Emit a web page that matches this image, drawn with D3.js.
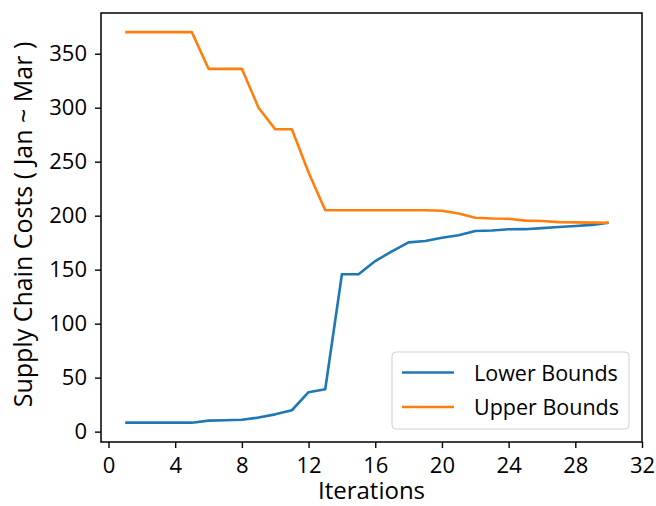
<!DOCTYPE html>
<html><head><meta charset="utf-8">
<script src="https://cdn.jsdelivr.net/npm/d3@7"></script>
<style>body{margin:0;background:#fff}svg{display:block}text{font-family:"Open Sans",sans-serif}</style>
</head><body><svg id="c" width="656" height="506"></svg>
<script>
const iterations = d3.range(1, 31);
const lowerBounds = [8.3,8.3,8.3,8.3,8.3,10.2,10.5,11,13,16,19.8,36.5,39.2,145.7,145.7,158,167,175.3,176.5,179.6,181.8,185.8,186.3,187.4,187.5,188.5,189.5,190.5,191.5,193.5];
const upperBounds = [370,370,370,370,370,336,336,336,300,280,280,240,205,205,205,205,205,205,205,204.5,202,198.1,197.4,197.2,195.4,195,194,193.8,193.6,193.5];
const seriesNames = ["Lower Bounds", "Upper Bounds"];
const xTicks = [0,4,8,12,16,20,24,28,32];
const yTicks = [0,50,100,150,200,250,300,350];
const xLabel = "Iterations";
const yLabel = "Supply Chain Costs ( Jan ~ Mar )";
const colors = ["#1f77b4", "#ff7f0e"];

const svg = d3.select("#c");
const L = 101, R = 642, T = 13, B = 442;
const x = d3.scaleLinear().domain([-0.45, 32]).range([L, R]);
const y = d3.scaleLinear().domain([-9.6, 387.7]).range([B, T]);

const series = [lowerBounds, upperBounds];
const line = d3.line().x((d, i) => x(iterations[i])).y(d => y(d));
series.forEach((s, k) => {
  svg.append("path").datum(s).attr("d", line).attr("fill", "none")
    .attr("stroke", colors[k]).attr("stroke-width", 2.6).attr("stroke-linejoin", "round");
});

const xAxis = svg.append("g").attr("transform", `translate(0,${B})`)
  .call(d3.axisBottom(x).tickValues(xTicks).tickSize(6).tickPadding(6).tickFormat(d3.format("d")));
const yAxis = svg.append("g").attr("transform", `translate(${L},0)`)
  .call(d3.axisLeft(y).tickValues(yTicks).tickSize(6).tickPadding(8).tickFormat(d3.format("d")));
[xAxis, yAxis].forEach(g => {
  g.select(".domain").remove();
  g.selectAll("line").attr("stroke", "#000").attr("stroke-width", 1.4);
  g.selectAll("text").attr("font-size", 22).attr("fill", "#000").attr("font-family", '"Open Sans",sans-serif');
});
xAxis.selectAll("text").attr("dy", null).attr("y", 0).attr("dominant-baseline", "auto").attr("transform", "translate(0,31)");

svg.append("rect").attr("x", L).attr("y", T).attr("width", R - L).attr("height", B - T)
  .attr("fill", "none").attr("stroke", "#000").attr("stroke-width", 1.5);

svg.append("text").attr("x", (L + R) / 2).attr("y", 499).attr("text-anchor", "middle")
  .attr("font-size", 24).text(xLabel);
svg.append("text").attr("transform", `translate(32,${(T + B) / 2 - 3}) rotate(-90)`)
  .attr("text-anchor", "middle").attr("font-size", 25).text(yLabel);

const lg = svg.append("g");
lg.append("rect").attr("x", 392).attr("y", 352).attr("width", 237).attr("height", 77)
  .attr("rx", 4).attr("fill", "#fff").attr("fill-opacity", 0.8).attr("stroke", "#d0d0d0").attr("stroke-width", 1);
seriesNames.forEach((n, k) => {
  const yy = 372.5 + k * 34.5;
  lg.append("line").attr("x1", 402).attr("x2", 454).attr("y1", yy).attr("y2", yy)
    .attr("stroke", colors[k]).attr("stroke-width", 2.6);
  lg.append("text").attr("x", 474).attr("y", yy + 8).attr("font-size", 21.5).text(n);
});
</script></body></html>
